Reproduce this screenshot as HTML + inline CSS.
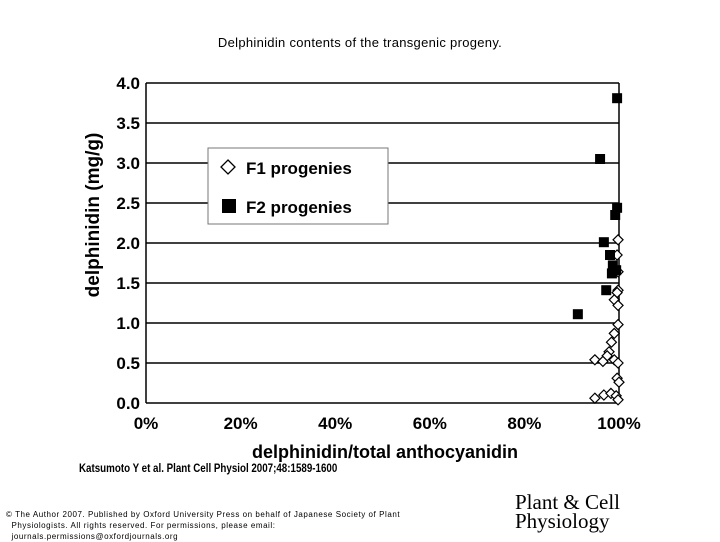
<!DOCTYPE html>
<html><head><meta charset="utf-8"><style>
body{margin:0;width:720px;height:540px;background:#fff;font-family:"Liberation Sans",sans-serif;position:relative;overflow:hidden}
.t{position:absolute;white-space:nowrap;color:#000}
</style></head><body>
<div class="t" style="left:0;width:720px;text-align:center;top:35px;font-size:13px;letter-spacing:0.3px">Delphinidin contents of the transgenic progeny.</div>
<svg id="ch" width="720" height="470" style="position:absolute;left:0;top:0"></svg>
<div class="t" style="left:79px;top:463px;font-size:11.5px;font-weight:bold;transform:scaleX(0.85);transform-origin:left">Katsumoto Y et al. Plant Cell Physiol 2007;48:1589-1600</div>
<div class="t" style="left:6px;top:509px;font-size:8px;line-height:11px;letter-spacing:0.55px">© The Author 2007. Published by Oxford University Press on behalf of Japanese Society of Plant<br>&nbsp;&nbsp;Physiologists. All rights reserved. For permissions, please email:<br>&nbsp;&nbsp;journals.permissions@oxfordjournals.org</div>
<div class="t" style="left:515px;top:493px;font-family:'Liberation Serif',serif;font-size:21px;line-height:19px">Plant &amp; Cell<br>Physiology</div>
<script>
const yTicks=[0,0.5,1,1.5,2,2.5,3,3.5,4];
const xTicks=[0,20,40,60,80,100];
const f1X=[99.8,99.6,99.8,99.8,99.6,99,99.8,99.8,99,98.4,97.9,97.5,94.9,96.6,99,99.8,99.6,100,94.9,96.8,98.3,99.4,99.8];
const f1Y=[2.04,1.85,1.64,1.41,1.38,1.29,1.22,0.98,0.87,0.76,0.64,0.59,0.54,0.52,0.54,0.5,0.31,0.26,0.06,0.1,0.12,0.09,0.04];
const f2X=[99.6,96,99.6,99.2,96.8,98.1,98.7,98.5,99.4,97.3,91.3];
const f2Y=[3.81,3.05,2.44,2.35,2.01,1.85,1.72,1.62,1.66,1.41,1.11];
const L=146,R=619,T=83,B=403;
const sx=v=>L+(v/100)*(R-L), sy=v=>B-(v/4)*(B-T);
const svg=document.getElementById('ch');const NS='http://www.w3.org/2000/svg';
function el(t,a,txt){const e=document.createElementNS(NS,t);for(const k in a)e.setAttribute(k,a[k]);if(txt!==undefined)e.textContent=txt;svg.appendChild(e);return e;}
yTicks.forEach(v=>{
 const g=el('line',{x1:L,x2:R,y1:sy(v),y2:sy(v),stroke:'#000','stroke-width':1.5});
 
 
 const t=el('text',{x:L-6,y:sy(v)+6,'text-anchor':'end','font-size':17,'font-weight':'bold','font-family':'Liberation Sans'},v.toFixed(1));
 
 
});
xTicks.forEach(v=>{
 const t=el('text',{x:sx(v),y:429,'text-anchor':'middle','font-size':17,'font-weight':'bold','font-family':'Liberation Sans'},v+'%');
 
 
});
const la=el('line',{x1:L,x2:L,y1:T,y2:B,stroke:'#000','stroke-width':1.5});


const ra=el('line',{x1:R,x2:R,y1:T,y2:B,stroke:'#000','stroke-width':1.5});


const xt=el('text',{x:385,y:458,'text-anchor':'middle','font-size':18,'font-weight':'bold','font-family':'Liberation Sans'},'delphinidin/total anthocyanidin');


const yt=el('text',{x:0,y:0,'text-anchor':'middle','font-size':19,'font-weight':'bold','font-family':'Liberation Sans',transform:'translate(99,215) rotate(-90)'},'delphinidin (mg/g)');


const lb=el('rect',{x:208,y:148,width:180,height:76,fill:'#fff',stroke:'#777','stroke-width':1});


const ld=el('path',{d:'M228 160 l7 7 l-7 7 l-7 -7 z',fill:'#fff',stroke:'#000','stroke-width':1.3});


const l1=el('text',{x:246,y:174,'font-size':17,'font-weight':'bold','font-family':'Liberation Sans'},'F1 progenies');


const ls=el('rect',{x:222,y:199,width:14,height:14,fill:'#000'});


const l2=el('text',{x:246,y:213,'font-size':17,'font-weight':'bold','font-family':'Liberation Sans'},'F2 progenies');


f1X.forEach((x,i)=>{
 const cx=sx(x),cy=sy(f1Y[i]);
 const p=el('path',{d:`M${cx} ${cy-5} l5 5 l-5 5 l-5 -5 z`,fill:'#fff',stroke:'#000','stroke-width':1.2});
 
 
});
f2X.forEach((x,i)=>{
 const cx=sx(x),cy=sy(f2Y[i]);
 const p=el('rect',{x:cx-5,y:cy-5,width:10,height:10,fill:'#000'});
 
 
});
</script>
</body></html>
